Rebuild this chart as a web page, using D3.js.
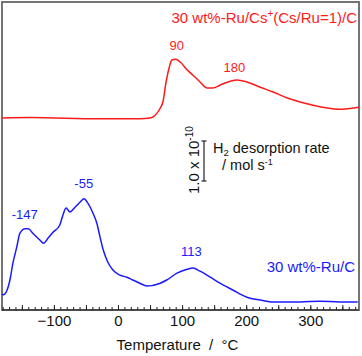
<!DOCTYPE html>
<html>
<head>
<meta charset="utf-8">
<script src="https://cdn.jsdelivr.net/npm/d3@7"></script>
<style>
  html, body { margin: 0; padding: 0; background: #fff; }
  svg { display: block; font-family: "Liberation Sans", Arial, sans-serif; }
</style>
</head>
<body>
<svg id="chart" width="362" height="356"></svg>
<script>
// Temperature (°C)
const ruTemp = [-181, -179, -173, -168, -164, -158, -153, -145, -140, -133, -122, -116, -109, -101, -91, -86, -81, -75, -67, -59, -53, -47, -39, -33, -28, -23, -16, -8, 3, 14, 23, 34, 45, 66, 76, 92, 108, 117, 128, 144, 159, 179, 201, 222, 242, 284, 315, 346, 374];
// H2 desorption rate, 30 wt%-Ru/C (units of 1e-10 mol/s, offset)
const ruRate = [0.40, 0.38, 0.50, 0.80, 1.17, 1.57, 1.92, 2.03, 2.03, 1.92, 1.75, 1.67, 1.80, 1.95, 2.12, 2.37, 2.55, 2.45, 2.57, 2.70, 2.78, 2.67, 2.42, 2.17, 1.82, 1.50, 1.20, 1.00, 0.87, 0.82, 0.75, 0.67, 0.60, 0.67, 0.75, 0.92, 1.02, 1.05, 0.97, 0.82, 0.67, 0.50, 0.32, 0.25, 0.20, 0.20, 0.22, 0.20, 0.20];

const csTemp = [-181, -137, -28, 34, 50, 58, 66, 70, 75, 80, 84, 90, 97, 108, 117, 128, 139, 148, 159, 175, 186, 201, 222, 242, 264, 284, 304, 326, 346, 367, 376];
// H2 desorption rate, 30 wt%-Ru/Cs+(Cs/Ru=1)/C (units of 1e-10 mol/s, offset)
const csRate = [4.80, 4.81, 4.78, 4.78, 4.80, 4.87, 5.05, 5.20, 5.70, 6.07, 6.25, 6.27, 6.20, 6.00, 5.87, 5.70, 5.55, 5.55, 5.62, 5.72, 5.75, 5.70, 5.57, 5.45, 5.30, 5.20, 5.12, 5.05, 5.02, 5.05, 5.07];

const peakCsTemps = [90, 180];
const peakCsLabels = ["90", "180"];
const peakRuTemps = [-147, -55, 113];
const peakRuLabels = ["-147", "-55", "113"];

const xTickLabels = [-100, 0, 100, 200, 300];

const svg = d3.select("#chart");
const L = 2, R = 359, T = 2, B = 310;

const x = d3.scaleLinear().domain([-181, 376]).range([L, R]);
const y = d3.scaleLinear().domain([0, 7.7]).range([B, T]);

// frame
svg.append("rect").attr("x", L).attr("y", T).attr("width", R - L).attr("height", B - T)
  .attr("fill", "none").attr("stroke", "#666").attr("stroke-width", 1.8);

const line = d3.line().x(d => x(d[0])).y(d => y(d[1])).curve(d3.curveMonotoneX);

svg.append("path").datum(d3.zip(csTemp, csRate)).attr("d", line)
  .attr("fill", "none").attr("stroke", "#ff1a1a").attr("stroke-width", 1.5);
svg.append("path").datum(d3.zip(ruTemp, ruRate)).attr("d", line)
  .attr("fill", "none").attr("stroke", "#1a1aff").attr("stroke-width", 1.5);

// axes: minor ticks
svg.append("g").attr("transform", `translate(0,${B})`)
  .call(d3.axisBottom(x).tickValues(d3.range(-180, 376, 10)).tickSize(-3).tickFormat(""))
  .call(g => g.select(".domain").remove())
  .call(g => g.selectAll("line").attr("stroke", "#222"));
// major ticks & labels
const ax = svg.append("g").attr("transform", `translate(0,${B})`)
  .call(d3.axisBottom(x).tickValues(d3.range(-150, 376, 50)).tickSize(-5).tickPadding(5)
    .tickFormat(d => xTickLabels.includes(d) ? d3.format("d")(d) : ""));
ax.select(".domain").attr("stroke", "#222").attr("stroke-width", 1.2)
  .attr("d", `M${L},0H${R}`);
ax.selectAll("line").attr("stroke", "#222");
ax.selectAll("text").attr("font-size", 15).attr("fill", "#111")
  .attr("font-family", '"Liberation Sans", Arial, sans-serif');

svg.append("text").attr("x", (L + R) / 2 - 3).attr("y", 350).attr("text-anchor", "middle")
  .attr("font-size", 15).attr("fill", "#111").attr("xml:space", "preserve")
  .text("Temperature  /  °C");

// series labels
const t1 = svg.append("text").attr("x", 357).attr("y", 23).attr("text-anchor", "end")
  .attr("font-size", 15).attr("fill", "#ff1a1a");
t1.append("tspan").text("30 wt%-Ru/Cs");
t1.append("tspan").attr("font-size", 10).attr("dy", -6).text("+");
t1.append("tspan").attr("dy", 6).text("(Cs/Ru=1)/C");

svg.append("text").attr("x", 355).attr("y", 272).attr("text-anchor", "end")
  .attr("font-size", 15).attr("fill", "#1a1aff").text("30 wt%-Ru/C");

// peak labels
const csPeakY = [50, 72];
svg.selectAll(".pcs").data(d3.zip(peakCsTemps, peakCsLabels, csPeakY)).join("text")
  .attr("x", d => x(d[0]) + 1).attr("y", d => d[2]).attr("text-anchor", "middle")
  .attr("font-size", 13).attr("fill", "#ff1a1a").text(d => d[1]);
const ruPeakY = [219, 188, 256];
svg.selectAll(".pru").data(d3.zip(peakRuTemps, peakRuLabels, ruPeakY)).join("text")
  .attr("x", d => x(d[0]) + 1).attr("y", d => d[2]).attr("text-anchor", "middle")
  .attr("font-size", 13).attr("fill", "#1a1aff").text(d => d[1]);

// scale bar (1.0 x 10^-10 mol/s)
const barX = 204, barTop = 141, barLen = y(0) - y(1.0);
const bar = svg.append("g").attr("stroke", "#222").attr("stroke-width", 1.2);
bar.append("line").attr("x1", barX).attr("x2", barX).attr("y1", barTop).attr("y2", barTop + barLen);
bar.append("line").attr("x1", barX - 2.5).attr("x2", barX + 2.5).attr("y1", barTop).attr("y2", barTop);
bar.append("line").attr("x1", barX - 2.5).attr("x2", barX + 2.5).attr("y1", barTop + barLen).attr("y2", barTop + barLen);

const rt = svg.append("text").attr("transform", `translate(199,194) rotate(-90)`)
  .attr("font-size", 15).attr("fill", "#111");
rt.append("tspan").text("1.0 x 10");
rt.append("tspan").attr("font-size", 10).attr("dy", -6).text("-10");

const h = svg.append("text").attr("x", 213).attr("y", 153).attr("font-size", 14.5).attr("fill", "#111");
h.append("tspan").text("H");
h.append("tspan").attr("font-size", 9.5).attr("dy", 3).text("2");
h.append("tspan").attr("dy", -3).text(" desorption rate");
const m = svg.append("text").attr("x", 222).attr("y", 170).attr("font-size", 14.5).attr("fill", "#111");
m.append("tspan").text("/ mol s");
m.append("tspan").attr("font-size", 9).attr("dy", -5).text("-1");
</script>
</body>
</html>
